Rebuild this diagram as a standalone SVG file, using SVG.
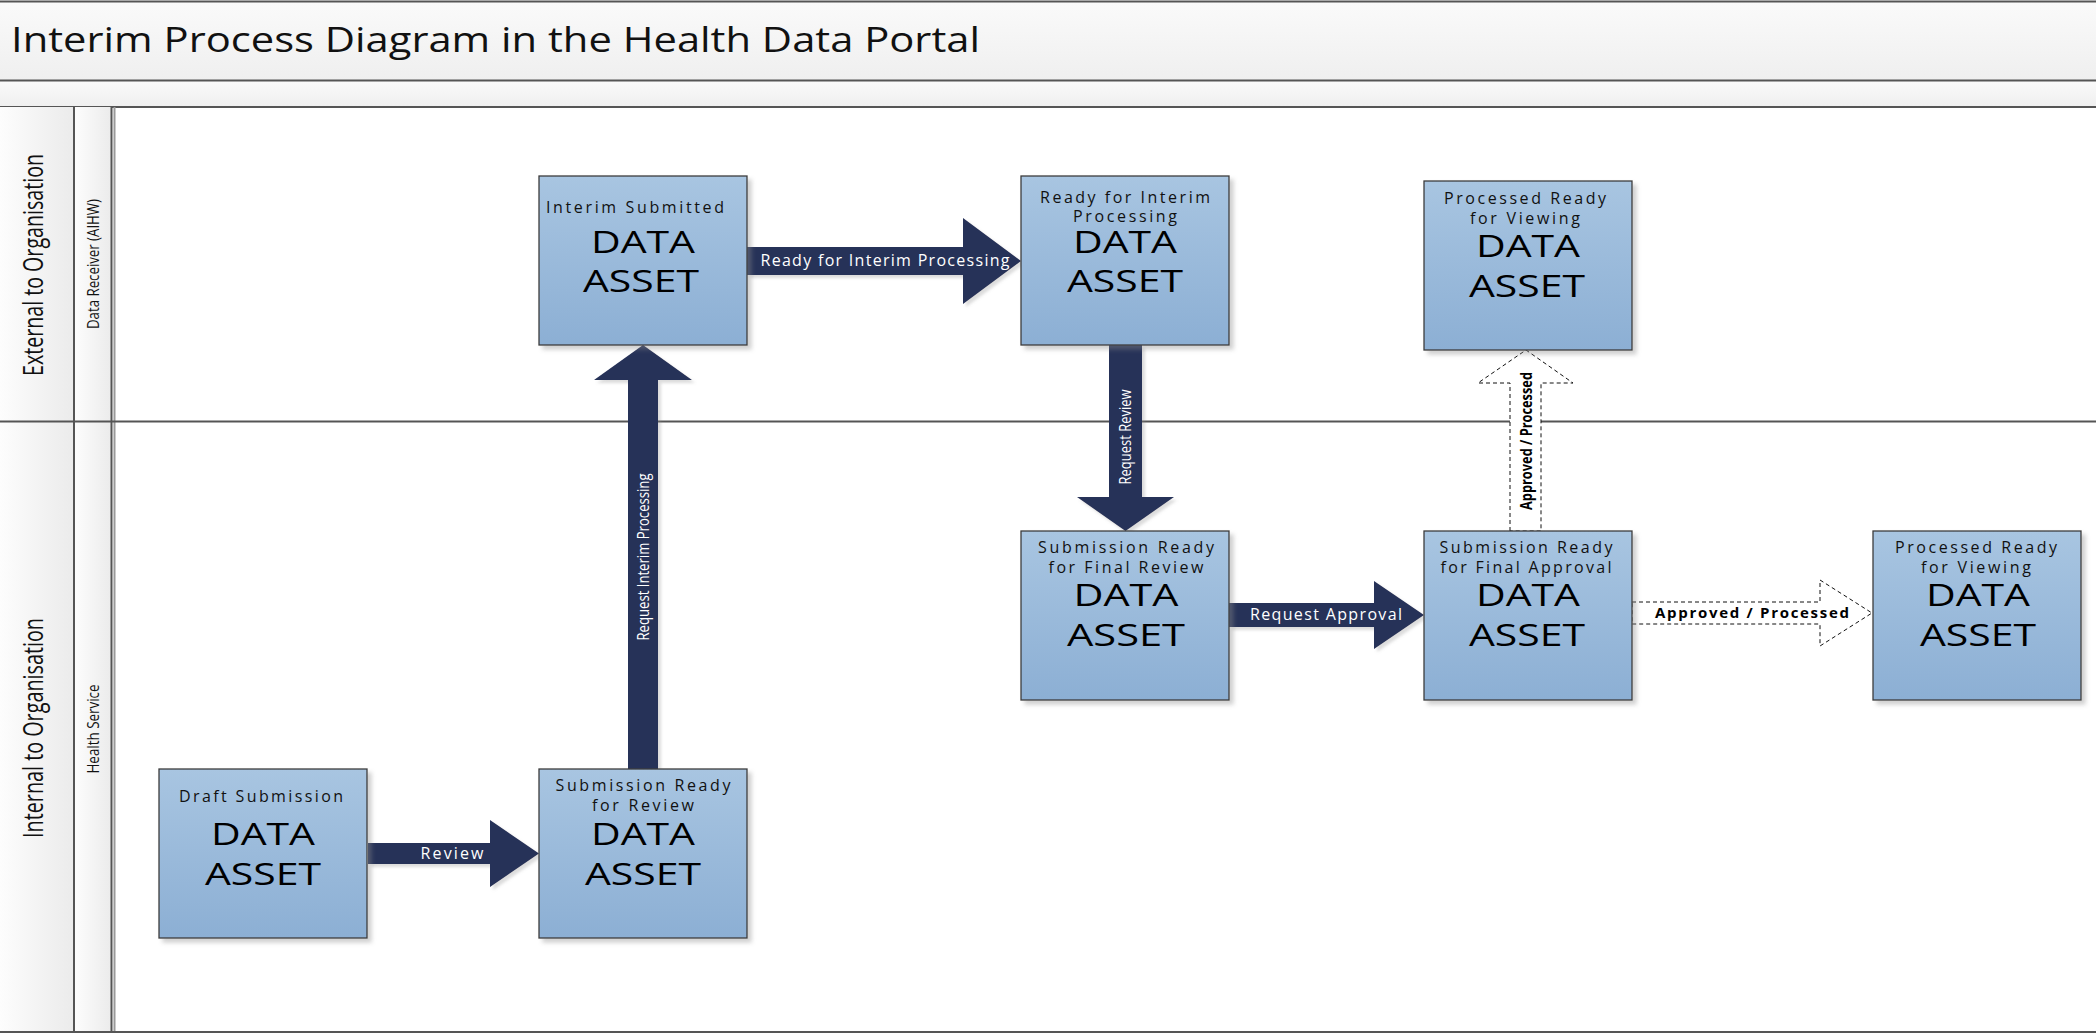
<svg xmlns="http://www.w3.org/2000/svg" width="2096" height="1034" viewBox="0 0 2096 1034">
<defs>
  <linearGradient id="boxGrad" x1="0" y1="0" x2="0" y2="1">
    <stop offset="0" stop-color="#a8c5e1"/>
    <stop offset="1" stop-color="#8cafd4"/>
  </linearGradient>
  <linearGradient id="bandGrad" x1="0" y1="0" x2="0" y2="1">
    <stop offset="0" stop-color="#fafafa"/>
    <stop offset="1" stop-color="#efefef"/>
  </linearGradient>
  <linearGradient id="colGrad" x1="0" y1="0" x2="1" y2="0">
    <stop offset="0" stop-color="#fdfdfd"/>
    <stop offset="1" stop-color="#ebebeb"/>
  </linearGradient>
  <filter id="shadow" x="-10%" y="-10%" width="130%" height="130%">
    <feDropShadow dx="4" dy="4" stdDeviation="2" flood-color="#8a8a8a" flood-opacity="0.4"/>
  </filter>
  <filter id="ashadow" x="-10%" y="-10%" width="130%" height="130%">
    <feDropShadow dx="3" dy="3" stdDeviation="1.5" flood-color="#8a8a8a" flood-opacity="0.3"/>
  </filter>
</defs>
<style>
  .box { fill: url(#boxGrad); stroke: #3c3c3c; stroke-width: 1.3; filter: url(#shadow); }
  .st { font-family: "Open Sans", "Liberation Sans", sans-serif; font-size: 16px; fill: #111; text-anchor: middle; }
  .big { font-family: "Open Sans", "Liberation Sans", sans-serif; font-size: 31px; fill: #000; text-anchor: middle; }
  .arrow { fill: #283259; filter: url(#ashadow); }
  .darrow { fill: #ffffff; stroke: #111; stroke-width: 1; stroke-dasharray: 4 3; }
  .al { font-family: "Open Sans", "Liberation Sans", sans-serif; font-size: 16px; fill: #ffffff; text-anchor: middle; }
  .alb { font-family: "Open Sans", "Liberation Sans", sans-serif; font-size: 15px; font-weight: bold; fill: #000; text-anchor: middle; }
  .lane { font-family: "Open Sans", "Liberation Sans", sans-serif; font-size: 28px; fill: #111; text-anchor: middle; }
  .sublane { font-family: "Open Sans", "Liberation Sans", sans-serif; font-size: 16px; fill: #111; text-anchor: middle; }
  .rule { stroke: #555; stroke-width: 2; fill: none; }
  .title { font-family: "Open Sans", "Liberation Sans", sans-serif; font-size: 35px; fill: #111; }
</style>
<rect x="0" y="0" width="2096" height="1034" fill="#ffffff"/>

<g id="header">
  <rect x="0" y="1" width="2096" height="80" fill="url(#bandGrad)"/>
  <rect x="0" y="81" width="2096" height="26" fill="url(#bandGrad)"/>
  <line class="rule" x1="0" y1="1.5" x2="2096" y2="1.5"/>
  <line class="rule" x1="0" y1="80.5" x2="2096" y2="80.5"/>
  <line class="rule" x1="0" y1="107" x2="2096" y2="107"/>
  <text class="title" x="11" y="52" textLength="969" lengthAdjust="spacingAndGlyphs">Interim Process Diagram in the Health Data Portal</text>
</g>

<g id="lanes">
  <rect x="0" y="107" width="74" height="925" fill="url(#colGrad)"/>
  <rect x="74" y="107" width="38" height="925" fill="url(#colGrad)"/>
  <line class="rule" x1="74" y1="107" x2="74" y2="1032"/>
  <line class="rule" x1="111.5" y1="107" x2="111.5" y2="1032"/>
  <line x1="114.5" y1="107" x2="114.5" y2="1032" stroke="#9a9a9a" stroke-width="2"/>
  <line class="rule" x1="0" y1="421.5" x2="2096" y2="421.5"/>
  <line class="rule" x1="0" y1="1032" x2="2096" y2="1032"/>
  <text class="lane" transform="translate(43,265) rotate(-90)" textLength="222" lengthAdjust="spacingAndGlyphs">External to Organisation</text>
  <text class="sublane" transform="translate(99,264) rotate(-90)" textLength="130" lengthAdjust="spacingAndGlyphs">Data Receiver (AIHW)</text>
  <text class="lane" transform="translate(43,728) rotate(-90)" textLength="220" lengthAdjust="spacingAndGlyphs">Internal to Organisation</text>
  <text class="sublane" transform="translate(99,729) rotate(-90)" textLength="89" lengthAdjust="spacingAndGlyphs">Health Service</text>
</g>

<g id="connectors">
  <polygon class="arrow" points="368,843 490,843 490,820 539,853.5 490,887 490,864 368,864"/>
  <text class="al" x="452" y="859" textLength="63">Review</text>

  <polygon class="arrow" points="628,769 628,380 594,380 643,345 692,380 658,380 658,769"/>
  <text class="al" transform="translate(649,557) rotate(-90)" textLength="167" lengthAdjust="spacingAndGlyphs">Request Interim Processing</text>

  <polygon class="arrow" points="747,247 963,247 963,218 1021,261 963,304 963,275 747,275"/>
  <text class="al" x="885" y="266" textLength="249">Ready for Interim Processing</text>

  <polygon class="arrow" points="1109,345 1142,345 1142,497 1174,497 1125.5,531 1077,497 1109,497"/>
  <text class="al" transform="translate(1131,437) rotate(-90)" textLength="95" lengthAdjust="spacingAndGlyphs">Request Review</text>

  <polygon class="arrow" points="1229,603 1374,603 1374,581 1424,615 1374,649 1374,627 1229,627"/>
  <text class="al" x="1326" y="620" textLength="152">Request Approval</text>

  <polygon class="darrow" points="1510,531 1510,383 1478,383 1526,350 1573,383 1541,383 1541,531"/>
  <text class="alb" style="font-size:16px" transform="translate(1531.5,441) rotate(-90)" textLength="138" lengthAdjust="spacingAndGlyphs">Approved / Processed</text>

  <polygon class="darrow" points="1632,602 1820,602 1820,580 1872,613 1820,646 1820,624 1632,624"/>
  <text class="alb" x="1752" y="618" textLength="194">Approved / Processed</text>
</g>

<g id="node-draft-submission">
  <rect class="box" x="159" y="769" width="208" height="169"/>
  <text class="st" x="261" y="802" textLength="164">Draft Submission</text>
  <text class="big" x="263" y="845" textLength="104" lengthAdjust="spacingAndGlyphs">DATA</text>
  <text class="big" x="263" y="885" textLength="116" lengthAdjust="spacingAndGlyphs">ASSET</text>
</g>

<g id="node-submission-ready-for-review">
  <rect class="box" x="539" y="769" width="208" height="169"/>
  <text class="st" x="643" y="791" textLength="175">Submission Ready</text>
  <text class="st" x="643" y="811" textLength="102">for Review</text>
  <text class="big" x="643" y="845" textLength="104" lengthAdjust="spacingAndGlyphs">DATA</text>
  <text class="big" x="643" y="885" textLength="116" lengthAdjust="spacingAndGlyphs">ASSET</text>
</g>

<g id="node-interim-submitted">
  <rect class="box" x="539" y="176" width="208" height="169"/>
  <text class="st" x="635" y="213" textLength="178">Interim Submitted</text>
  <text class="big" x="643" y="253" textLength="104" lengthAdjust="spacingAndGlyphs">DATA</text>
  <text class="big" x="641" y="292" textLength="116" lengthAdjust="spacingAndGlyphs">ASSET</text>
</g>

<g id="node-ready-for-interim-processing">
  <rect class="box" x="1021" y="176" width="208" height="169"/>
  <text class="st" x="1125" y="203" textLength="170">Ready for Interim</text>
  <text class="st" x="1125" y="222" textLength="104">Processing</text>
  <text class="big" x="1125" y="253" textLength="104" lengthAdjust="spacingAndGlyphs">DATA</text>
  <text class="big" x="1125" y="292" textLength="116" lengthAdjust="spacingAndGlyphs">ASSET</text>
</g>

<g id="node-processed-ready-top">
  <rect class="box" x="1424" y="181" width="208" height="169"/>
  <text class="st" x="1525" y="204" textLength="162">Processed Ready</text>
  <text class="st" x="1525" y="224" textLength="110">for Viewing</text>
  <text class="big" x="1528" y="257" textLength="104" lengthAdjust="spacingAndGlyphs">DATA</text>
  <text class="big" x="1527" y="297" textLength="116" lengthAdjust="spacingAndGlyphs">ASSET</text>
</g>

<g id="node-submission-ready-final-review">
  <rect class="box" x="1021" y="531" width="208" height="169"/>
  <text class="st" x="1126" y="553" textLength="176">Submission Ready</text>
  <text class="st" x="1126" y="573" textLength="155">for Final Review</text>
  <text class="big" x="1126" y="606" textLength="105" lengthAdjust="spacingAndGlyphs">DATA</text>
  <text class="big" x="1126" y="646" textLength="118" lengthAdjust="spacingAndGlyphs">ASSET</text>
</g>

<g id="node-submission-ready-final-approval">
  <rect class="box" x="1424" y="531" width="208" height="169"/>
  <text class="st" x="1526" y="553" textLength="173">Submission Ready</text>
  <text class="st" x="1526" y="573" textLength="171">for Final Approval</text>
  <text class="big" x="1528" y="606" textLength="104" lengthAdjust="spacingAndGlyphs">DATA</text>
  <text class="big" x="1527" y="646" textLength="116" lengthAdjust="spacingAndGlyphs">ASSET</text>
</g>

<g id="node-processed-ready-right">
  <rect class="box" x="1873" y="531" width="208" height="169"/>
  <text class="st" x="1976" y="553" textLength="162">Processed Ready</text>
  <text class="st" x="1976" y="573" textLength="110">for Viewing</text>
  <text class="big" x="1978" y="606" textLength="104" lengthAdjust="spacingAndGlyphs">DATA</text>
  <text class="big" x="1978" y="646" textLength="116" lengthAdjust="spacingAndGlyphs">ASSET</text>
</g>
</svg>
